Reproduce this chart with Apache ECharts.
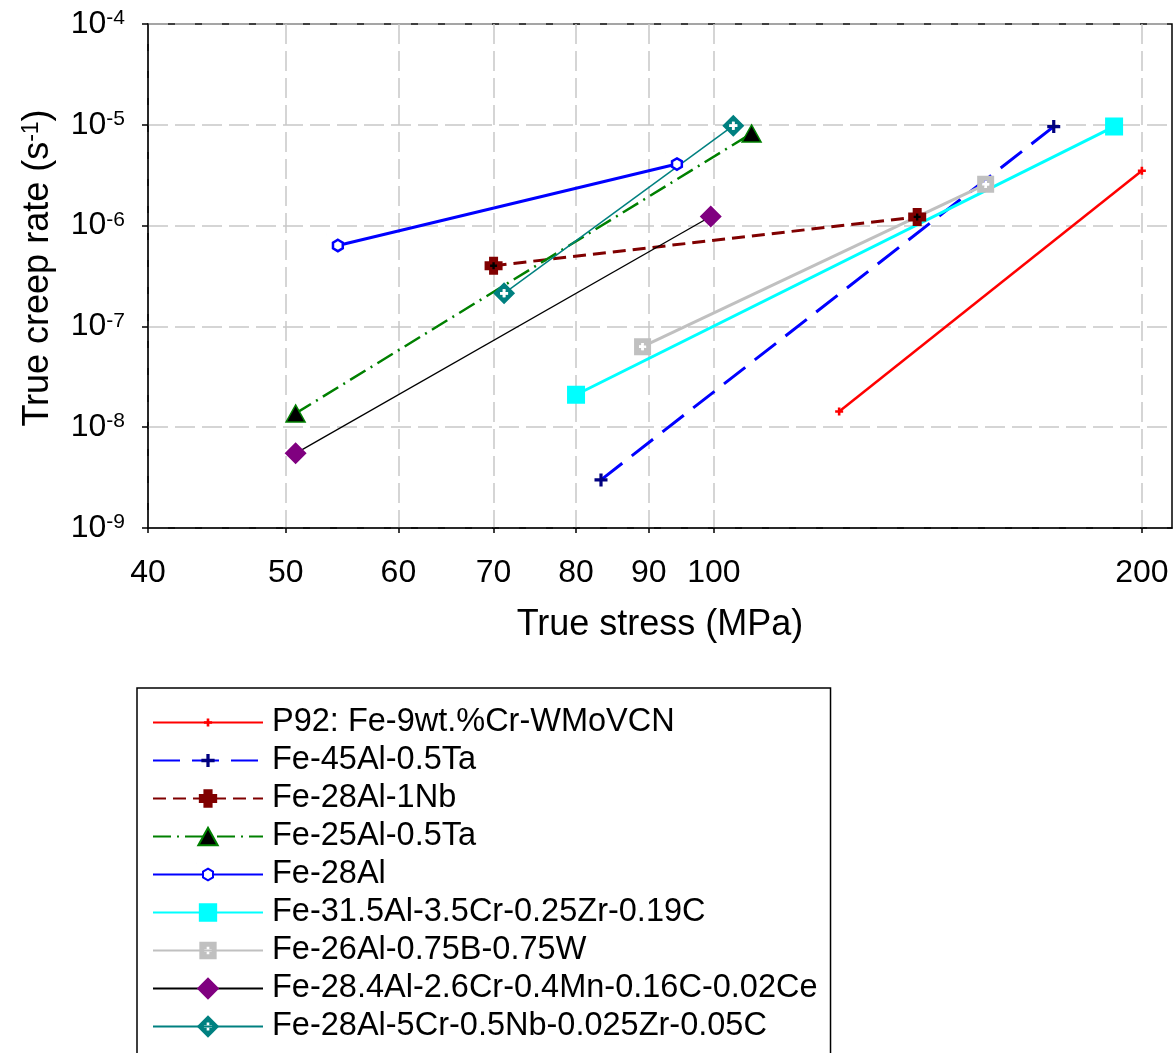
<!DOCTYPE html>
<html><head><meta charset="utf-8">
<script src="https://cdn.jsdelivr.net/npm/echarts@6/dist/echarts.min.js"></script>
<style>html,body{margin:0;padding:0;background:#fff}#c{width:1175px;height:1053px}</style>
</head><body><div id="c"></div>
<script>
// ---------- data ----------
const seriesNames = [
  'P92: Fe-9wt.%Cr-WMoVCN',
  'Fe-45Al-0.5Ta',
  'Fe-28Al-1Nb',
  'Fe-25Al-0.5Ta',
  'Fe-28Al',
  'Fe-31.5Al-3.5Cr-0.25Zr-0.19C',
  'Fe-26Al-0.75B-0.75W',
  'Fe-28.4Al-2.6Cr-0.4Mn-0.16C-0.02Ce',
  'Fe-28Al-5Cr-0.5Nb-0.025Zr-0.05C'
];
const p92Stress = [122.5, 200];      const p92Rate = [1.43e-8, 3.5e-6];
const fe45AlStress = [83.3, 173.4];  const fe45AlRate = [3.0e-9, 9.6e-6];
const fe28Nb1Stress = [70, 139];     const fe28Nb1Rate = [4.0e-7, 1.22e-6];
const fe25AlStress = [50.8, 106.3];  const fe25AlRate = [1.37e-8, 8.2e-6];
const fe28AlStress = [54.4, 94.2];   const fe28AlRate = [6.35e-7, 4.08e-6];
const fe315AlStress = [80, 191.2];   const fe315AlRate = [2.1e-8, 9.6e-6];
const fe26AlStress = [89.1, 155.3];  const fe26AlRate = [6.3e-8, 2.57e-6];
const fe284AlStress = [50.8, 99.5];  const fe284AlRate = [5.5e-9, 1.23e-6];
const fe28Cr5Stress = [71.2, 103.2]; const fe28Cr5Rate = [2.13e-7, 9.8e-6];

const xTickValues = [40, 50, 60, 70, 80, 90, 100, 200];
const yTickValues = [1e-9, 1e-8, 1e-7, 1e-6, 1e-5, 1e-4];

// ---------- helpers ----------
const FONT = "'Liberation Sans', Arial, sans-serif";
function pairs(xs, ys) { return xs.map((x, i) => [x, ys[i]]); }
function poly(pts) { return 'M' + pts.map(p => p[0] + ' ' + p[1]).join('L') + 'Z'; }
function plusPts(cx, cy, a, t) {
  return [[cx - t, cy - a], [cx + t, cy - a], [cx + t, cy - t], [cx + a, cy - t], [cx + a, cy + t], [cx + t, cy + t],
          [cx + t, cy + a], [cx - t, cy + a], [cx - t, cy + t], [cx - a, cy + t], [cx - a, cy - t], [cx - t, cy - t]];
}
const PAD = 'M0 0L0.01 0M22 22L21.99 22';
function sym(body) { return 'path://' + PAD + body; }
const symRedPlus = sym(poly(plusPts(11, 11, 4, 1.3)));
const symNavyPlus = sym(poly(plusPts(11, 11, 6.5, 1.6)));
const symCross = sym(poly(plusPts(11, 11, 9, 4.5)));
const symTri = sym(poly([[11, 2.5], [20.5, 19.5], [1.5, 19.5]]));
const symHex = sym(poly([[11, 5.3], [15.9, 8.15], [15.9, 13.85], [11, 16.7], [6.1, 13.85], [6.1, 8.15]]));
const symSquare = sym(poly([[2, 2], [20, 2], [20, 20], [2, 20]]));
const symGraySq = sym(poly([[2.5, 2.5], [19.5, 2.5], [19.5, 19.5], [2.5, 19.5]]) + poly(plusPts(11, 11, 3.6, 1.3).reverse()));
const symDiamond = sym(poly([[11, 0], [22, 11], [11, 22], [0, 11]]));
const symTealDia = sym(poly([[11, 0], [22, 11], [11, 22], [0, 11]]) + poly(plusPts(11, 11, 4, 1.3).reverse()));
const symInnerPlus = 'path://' + poly(plusPts(10, 10, 10, 3.4));

function lineSeries(name, xs, ys, color, width, type, symbol, itemStyle, z) {
  return {
    name, type: 'line', data: pairs(xs, ys), symbol, symbolSize: 22, showSymbol: true,
    lineStyle: { color, width, type }, itemStyle, z: z || 2,
    emphasis: { disabled: true }, animation: false
  };
}
function innerSeries(xs, ys, color, size) {
  return {
    name: '_inner', type: 'line', data: pairs(xs, ys), symbol: symInnerPlus, symbolSize: size,
    lineStyle: { opacity: 0, width: 0 }, itemStyle: { color }, z: 5, silent: true,
    emphasis: { disabled: true }, animation: false
  };
}

const series = [
  lineSeries(seriesNames[0], p92Stress, p92Rate, '#ff0000', 2.5, 'solid', symRedPlus, { color: '#ff0000' }),
  lineSeries(seriesNames[1], fe45AlStress, fe45AlRate, '#0000ff', 3, [27, 12], symNavyPlus, { color: '#000080' }),
  lineSeries(seriesNames[2], fe28Nb1Stress, fe28Nb1Rate, '#800000', 3, [13, 7], symCross, { color: '#800000' }),
  lineSeries(seriesNames[3], fe25AlStress, fe25AlRate, '#008000', 2.5, [18, 6, 2, 6], symTri, { color: '#000000', borderColor: '#008000', borderWidth: 1.5 }),
  lineSeries(seriesNames[4], fe28AlStress, fe28AlRate, '#0000ff', 3, 'solid', symHex, { color: '#ffffff', borderColor: '#0000ff', borderWidth: 2.5 }),
  lineSeries(seriesNames[5], fe315AlStress, fe315AlRate, '#00ffff', 3, 'solid', symSquare, { color: '#00ffff' }),
  lineSeries(seriesNames[6], fe26AlStress, fe26AlRate, '#c0c0c0', 3, 'solid', symGraySq, { color: '#c0c0c0' }),
  lineSeries(seriesNames[7], fe284AlStress, fe284AlRate, '#000000', 1.3, 'solid', symDiamond, { color: '#800080' }),
  lineSeries(seriesNames[8], fe28Cr5Stress, fe28Cr5Rate, '#008080', 1.5, 'solid', symTealDia, { color: '#008080' }),
  innerSeries(fe28Nb1Stress, fe28Nb1Rate, '#000000', 7),
  innerSeries(fe26AlStress, fe26AlRate, '#ffffff', 7),
  innerSeries(fe28Cr5Stress, fe28Cr5Rate, '#ffffff', 8)
];

const gridLine = { show: true, lineStyle: { color: '#c8c8c8', width: 1.5, type: [20, 7] } };

const option = {
  backgroundColor: '#ffffff',
  animation: false,
  textStyle: { fontFamily: FONT, color: '#000' },
  grid: { left: 148, right: 3, top: 24, bottom: 525, show: true, borderColor: '#000', borderWidth: 1.5, containLabel: false },
  xAxis: {
    type: 'log', logBase: 10, min: 40, max: 210,
    axisLine: { show: true, lineStyle: { color: '#000', width: 1.5 } },
    axisTick: { show: true, customValues: xTickValues, length: 5, lineStyle: { color: '#000', width: 1.5 } },
    axisLabel: { customValues: xTickValues, formatter: v => String(Math.round(v)), fontSize: 32, color: '#000', margin: 29, fontFamily: FONT },
    splitLine: gridLine,
    minorTick: { show: false }, minorSplitLine: { show: false },
    name: 'True stress (MPa)', nameLocation: 'middle', nameGap: 79,
    nameTextStyle: { fontSize: 36, color: '#000', fontFamily: FONT }
  },
  yAxis: {
    type: 'log', logBase: 10, min: 1e-9, max: 1e-4,
    axisLine: { show: true, lineStyle: { color: '#000', width: 1.5 } },
    axisTick: { show: true, customValues: yTickValues, length: 6, lineStyle: { color: '#000', width: 1.5 } },
    axisLabel: {
      customValues: yTickValues,
      formatter: v => '10{sup|' + Math.round(Math.log10(v)) + '}',
      fontSize: 32, color: '#000', margin: 23, fontFamily: FONT,
      rich: { sup: { fontSize: 21, verticalAlign: 'top', color: '#000', fontFamily: FONT } }
    },
    splitLine: gridLine,
    minorTick: { show: false }, minorSplitLine: { show: false },
    name: 'True creep rate (s{sup|-1})', nameLocation: 'middle', nameGap: 92, nameRotate: 90,
    nameTextStyle: { fontSize: 36, color: '#000', fontFamily: FONT, padding: [0, 0, 0, 16],
      rich: { sup: { fontSize: 23, verticalAlign: 'top', color: '#000', fontFamily: FONT } } }
  },
  legend: {
    orient: 'vertical', left: 137, top: 688, height: 400, itemWidth: 110, itemHeight: 28, itemGap: 5,
    padding: [18, 13, 20, 15], borderColor: '#000', borderWidth: 1.5, backgroundColor: '#fff',
    textStyle: { fontSize: 32.5, color: '#000', fontFamily: FONT, padding: [0, 0, 0, 4] },
    data: seriesNames, selectedMode: false
  },
  series
};
const chart = echarts.init(document.getElementById('c'), null, { renderer: 'canvas' });
chart.setOption(option);
</script>
</body></html>
